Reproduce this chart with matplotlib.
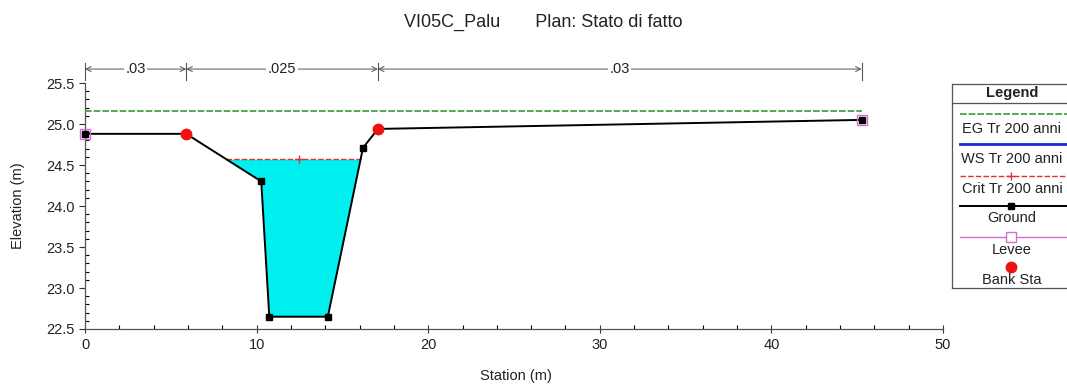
import numpy as np
import matplotlib
matplotlib.use("Agg")
import matplotlib.pyplot as plt

plt.rcParams['font.family'] = ['Liberation Sans', 'DejaVu Sans']

# cross section data
ground_sta = [0.0, 5.9, 10.27, 10.74, 14.15, 16.2, 17.07, 45.26]
ground_elev = [24.88, 24.88, 24.30, 22.65, 22.65, 24.71, 24.94, 25.05]
bank_sta = [5.9, 17.07]
bank_elev = [24.88, 24.94]
levee_sta = [0.0, 45.26]
levee_elev = [24.88, 25.05]
ws_elev = 24.57
crit_elev = 24.57
eg_elev = 25.16
n_breaks = [0.0, 5.9, 17.07, 45.26]
n_values = ['.03', '.025', '.03']
legend_labels = ['EG Tr 200 anni', 'WS Tr 200 anni', 'Crit Tr 200 anni',
                 'Ground', 'Levee', 'Bank Sta']

W, H = 1067, 385
fig = plt.figure(figsize=(W / 100, H / 100), dpi=100)
ax = fig.add_axes([85 / W, (H - 329) / H, (943 - 85) / W, (329 - 83) / H])

gs = np.array(ground_sta)
ge = np.array(ground_elev)

# water fill
ax.fill_between(gs, ge, ws_elev, where=ge < ws_elev, interpolate=True,
                color='#00f0f0', lw=0, zorder=1)


# where the water surface meets the ground
def crossings(level):
    xs = []
    for i in range(len(gs) - 1):
        y0, y1 = ge[i] - level, ge[i + 1] - level
        if y0 * y1 < 0:
            xs.append(gs[i] + (gs[i + 1] - gs[i]) * y0 / (y0 - y1))
    return xs


xc = crossings(crit_elev)
xl, xr = xc[0], xc[-1]
ax.plot([xl, (xl + xr) / 2 + 0.3, xr], [crit_elev] * 3, color='#e03030', lw=1.0,
        ls=(0, (4, 1.5)), marker='+', markevery=[1], ms=6, zorder=3)

# energy grade
ax.plot([gs[0], gs[-1]], [eg_elev, eg_elev], color='#3a9a3a', lw=1.2,
        ls=(0, (4, 1.2)), zorder=3)

# ground
ax.plot(gs, ge, color='black', lw=1.4, zorder=4)
sq = [i for i, s in enumerate(ground_sta) if s not in bank_sta]
ax.plot(gs[sq], ge[sq], ls='none', marker='s', ms=4.5, color='black', zorder=6,
        clip_on=False)
ax.plot(levee_sta, levee_elev, ls='none', marker='s', ms=7.5, mfc='none',
        mec='#d070d0', mew=1.0, zorder=5, clip_on=False)
ax.plot(bank_sta, bank_elev, ls='none', marker='o', ms=7.5, color='#ee1111',
        zorder=6)

# manning n bars on top
y_bar = 25.67
for b in n_breaks:
    ax.plot([b, b], [25.54, 25.75], color='#555555', lw=0.8, clip_on=False)
for i, lab in enumerate(n_values):
    a, b = n_breaks[i], n_breaks[i + 1]
    ax.annotate('', xy=(a, y_bar), xytext=(b, y_bar),
                arrowprops=dict(arrowstyle='<->', lw=0.7, color='#555555',
                                shrinkA=0, shrinkB=0, mutation_scale=9),
                annotation_clip=False)
    ax.text((a + b) / 2, y_bar, lab, ha='center', va='center', fontsize=10.5,
            color='#222222', clip_on=False,
            bbox=dict(fc='white', ec='none', pad=1.0))

ax.set_xlim(0, 50)
ax.set_ylim(22.5, 25.5)
ax.set_xticks([0, 10, 20, 30, 40, 50])
ax.set_xticks(np.arange(0, 51, 2), minor=True)
ax.set_yticks([22.5, 23.0, 23.5, 24.0, 24.5, 25.0, 25.5])
ax.set_yticks(np.arange(22.5, 25.55, 0.1), minor=True)
ax.yaxis.set_major_formatter(matplotlib.ticker.FormatStrFormatter('%.1f'))
ax.tick_params(axis='both', labelsize=10.5, colors='#333333', labelcolor='#222222')
ax.tick_params(axis='x', which='major', direction='inout', length=6, width=0.8)
ax.tick_params(axis='x', which='minor', direction='in', length=3, width=0.8)
ax.tick_params(axis='y', which='major', direction='out', length=4, width=0.8)
ax.tick_params(axis='y', which='minor', direction='in', length=3, width=0.8)
for s in ['top', 'right']:
    ax.spines[s].set_visible(False)
for s in ['left', 'bottom']:
    ax.spines[s].set_color('#555555')
    ax.spines[s].set_linewidth(0.9)

fig.text(18 / W, 1 - 206 / H, 'Elevation (m)', rotation=90, ha='center',
         va='center', fontsize=10.5, color='#222222')
fig.text(516 / W, 1 - 376 / H, 'Station (m)', ha='center', va='center',
         fontsize=10.5, color='#222222')
fig.text(543 / W, 1 - 22 / H, 'VI05C_Palu       Plan: Stato di fatto',
         ha='center', va='center', fontsize=13, color='#222222')

# legend box, drawn by hand like the HEC-RAS one
lg = fig.add_axes([952 / W, (H - 288) / H, 140 / W, 204 / H])
lg.set_xlim(0, 140)
lg.set_ylim(204, 0)
lg.set_xticks([])
lg.set_yticks([])
for s in lg.spines.values():
    s.set_color('#555555')
    s.set_linewidth(0.9)
lg.text(60, 9, 'Legend', ha='center', va='center', fontsize=10.5,
        fontweight='bold', color='#222222')
lg.plot([0, 140], [19, 19], color='#555555', lw=0.9)
x0, x1, xm = 8, 140, 59
lg.plot([x0, x1], [30, 30], color='#3a9a3a', lw=1.2, ls=(0, (4, 1.2)))
lg.plot([x0, x1], [60, 60], color='#1a2ad0', lw=2.0)
lg.plot([x0, xm, x1], [92, 92, 92], color='#e03030', lw=1.0,
        ls=(0, (4, 1.5)), marker='+', markevery=[1], ms=6)
lg.plot([x0, xm, x1], [122, 122, 122], color='black', lw=1.4,
        marker='s', markevery=[1], ms=4.5)
lg.plot([x0, xm, x1], [153, 153, 153], color='#d070d0', lw=1.0,
        marker='s', markevery=[1], ms=7, mfc='white', mec='#d070d0')
lg.plot([xm], [183], ls='none', marker='o', ms=7.5, color='#ee1111')
for y, lab in zip([45, 75, 105, 134, 166, 196], legend_labels):
    lg.text(60, y, lab, ha='center', va='center', fontsize=10.5,
            color='#222222')

fig.savefig('out.png', dpi=100)
